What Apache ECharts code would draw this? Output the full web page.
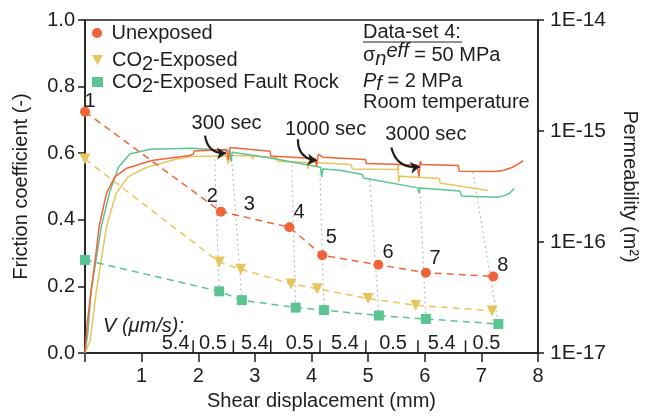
<!DOCTYPE html>
<html>
<head>
<meta charset="utf-8">
<script src="https://cdn.jsdelivr.net/npm/echarts@6/dist/echarts.min.js"></script>
<style>
html, body { margin: 0; padding: 0; background: #fff; }
#main { width: 648px; height: 416px; }
</style>
</head>
<body>
<div id="main"></div>
<script>
// friction curves, [shear displacement (mm), friction coefficient]
var fricUnexposed = [
  [0, 0], [0.04, 0.09], [0.11, 0.19], [0.18, 0.28], [0.25, 0.38], [0.38, 0.48], [0.53, 0.53],
  [0.74, 0.555], [1.18, 0.578], [1.85, 0.593], [1.91, 0.597], [1.93, 0.607], [2.5, 0.611],
  [2.52, 0.61], [2.53, 0.58], [2.56, 0.617], [3.27, 0.606], [3.28, 0.592], [3.95, 0.585],
  [4.07, 0.584], [4.09, 0.56], [4.12, 0.597], [4.2, 0.588], [4.95, 0.581], [4.97, 0.569],
  [5.86, 0.565], [5.88, 0.566], [5.9, 0.53], [5.92, 0.576], [5.95, 0.566], [6.59, 0.563],
  [6.61, 0.546], [7.26, 0.545], [7.4, 0.549], [7.55, 0.558], [7.65, 0.567], [7.74, 0.578]
];
var fricCO2 = [
  [0, 0], [0.09, 0.037], [0.2, 0.185], [0.38, 0.38], [0.55, 0.48], [0.76, 0.529], [1.09, 0.558],
  [1.62, 0.583], [1.9, 0.59], [1.92, 0.584], [2.5, 0.592], [2.52, 0.592], [2.53, 0.568],
  [2.55, 0.594], [2.95, 0.592], [2.96, 0.582], [2.98, 0.592], [3.39, 0.586], [3.4, 0.576],
  [3.93, 0.572], [3.94, 0.553], [3.96, 0.573], [4.7, 0.566], [4.72, 0.553], [5.52, 0.551],
  [5.53, 0.566], [5.54, 0.514], [5.56, 0.531], [6.26, 0.524], [6.27, 0.511], [7.12, 0.488]
];
var fricRock = [
  [0, 0], [0.05, 0.06], [0.106, 0.185], [0.29, 0.381], [0.43, 0.48], [0.59, 0.558], [0.79, 0.598],
  [1.15, 0.612], [1.9, 0.615], [2.56, 0.607], [2.58, 0.575], [2.6, 0.603], [3.2, 0.588],
  [3.23, 0.582], [4.16, 0.558], [4.18, 0.529], [4.2, 0.553], [4.5, 0.549], [4.9, 0.536],
  [4.92, 0.526], [5.88, 0.496], [5.9, 0.48], [5.92, 0.496], [6.62, 0.487], [6.65, 0.472],
  [7.26, 0.468], [7.4, 0.472], [7.5, 0.48], [7.58, 0.494]
];

// permeability measurements (m^2)
var permUnexposedX = [0, 2.40, 3.61, 4.19, 5.18, 6.02, 7.21];
var permUnexposed = [1.49e-15, 1.88e-16, 1.36e-16, 7.6e-17, 6.25e-17, 5.3e-17, 4.9e-17];
var permCO2X = [0, 2.37, 2.75, 3.64, 4.10, 5.0, 5.84, 7.19];
var permCO2 = [5.6e-16, 6.6e-17, 5.7e-17, 4.2e-17, 3.8e-17, 3.1e-17, 2.7e-17, 2.4e-17];
var permRockX = [0, 2.37, 2.77, 3.72, 4.22, 5.19, 6.02, 7.30];
var permRock = [6.9e-17, 3.6e-17, 3.0e-17, 2.57e-17, 2.44e-17, 2.18e-17, 2.03e-17, 1.83e-17];

// dotted guides: from the friction curve down to the measurement points
var guideTopX = [2.29, 2.59, 3.65, 4.15, 5.03, 5.91, 6.85];
var guideTopF = [0.582, 0.583, 0.564, 0.539, 0.52, 0.5, 0.544];

// numbers next to the measurements
var numLabels = ['1', '2', '3', '4', '5', '6', '7', '8'];
var numLabelX = [0.09, 2.25, 2.9, 3.78, 4.35, 5.35, 6.18, 7.38];
var numLabelF = [0.756, 0.47, 0.445, 0.421, 0.347, 0.303, 0.283, 0.263];

// hold annotations
var holdTexts = ['300 sec', '1000 sec', '3000 sec'];
var holdTextX = [2.5, 4.25, 6.02];
var holdTextF = [0.688, 0.672, 0.655];
var holdArrowFrom = [[2.12, 0.653], [3.76, 0.642], [5.41, 0.617]];
var holdArrowTo = [[2.49, 0.6], [4.09, 0.578], [5.91, 0.56]];

// sliding velocity steps
var velLabels = ['5.4', '0.5', '5.4', '0.5', '5.4', '0.5', '5.4', '0.5'];
var velLabelX = [1.6, 2.26, 3.0, 3.79, 4.59, 5.44, 6.30, 7.09];
var velStepX = [1.91, 2.62, 3.28, 4.15, 4.96, 5.88, 6.72];

var permTicks = [1e-17, 1e-16, 1e-15, 1e-14];
var legendNames = ['Unexposed', 'CO2-Exposed', 'CO2-Exposed Fault Rock'];
var legendIcons = ['circle', 'path://M0,0L10,0L5,9Z', 'rect'];

var ORANGE = '#F0643A', YELLOW = '#E8C55E', GREEN = '#5CC492';
var FONT = 'Liberation Sans, Arial, sans-serif';
var INK = '#1e1e1e';

function zip(xs, ys) {
  return xs.map(function (x, i) { return [x, ys[i]]; });
}
// friction axis and permeability axis share the plot height (0..1 <-> 1e-17..1e-14)
function permToFric(k) {
  return (Math.log10(k) + 17) / 3;
}
function textSeries(xs, ys, texts) {
  return {
    type: 'scatter', silent: true, symbolSize: 0, z: 6,
    itemStyle: { opacity: 1 },
    data: xs.map(function (x, i) { return [x, ys[i], texts[i]]; }),
    label: { show: true, position: 'inside', formatter: function (p) { return p.data[2]; },
      color: INK, fontSize: 20, fontFamily: FONT }
  };
}

var myChart = echarts.init(document.getElementById('main'));

var series = [];

// gray dotted guides
guideTopX.forEach(function (x, i) {
  series.push({
    type: 'line', silent: true, symbol: 'none', z: 1,
    data: [[x, guideTopF[i]], [permRockX[i + 1], permToFric(permRock[i + 1])]],
    lineStyle: { color: '#bdbdbd', width: 1.2, type: [2, 3] }
  });
});

series.push(
  { name: 'fU', type: 'line', showSymbol: false, data: fricUnexposed, z: 4,
    lineStyle: { color: ORANGE, width: 1.5 } },
  { name: 'fC', type: 'line', showSymbol: false, data: fricCO2, z: 3,
    lineStyle: { color: YELLOW, width: 1.5 } },
  { name: 'fR', type: 'line', showSymbol: false, data: fricRock, z: 3,
    lineStyle: { color: GREEN, width: 1.5 } },
  { name: legendNames[0], type: 'line', yAxisIndex: 1, data: zip(permUnexposedX, permUnexposed),
    symbol: 'circle', symbolSize: 10, z: 5,
    itemStyle: { color: ORANGE }, lineStyle: { color: ORANGE, width: 1.5, type: [7, 5] } },
  { name: legendNames[1], type: 'line', yAxisIndex: 1, data: zip(permCO2X, permCO2),
    symbol: 'triangle', symbolRotate: 180, symbolSize: 11, z: 5,
    itemStyle: { color: YELLOW }, lineStyle: { color: YELLOW, width: 1.5, type: [7, 5] } },
  { name: legendNames[2], type: 'line', yAxisIndex: 1, data: zip(permRockX, permRock),
    symbol: 'rect', symbolSize: 10, z: 5,
    itemStyle: { color: GREEN }, lineStyle: { color: GREEN, width: 1.5, type: [7, 5] } },
  textSeries(numLabelX, numLabelF, numLabels),
  textSeries(holdTextX, holdTextF, holdTexts),
  { type: 'lines', coordinateSystem: 'cartesian2d', silent: true, z: 6,
    data: holdArrowFrom.map(function (a, i) { return { coords: [a, holdArrowTo[i]] }; }),
    symbol: ['none', 'arrow'], symbolSize: 9,
    lineStyle: { color: INK, width: 2.2, opacity: 1, curveness: -0.45 } },
  textSeries(velLabelX, velLabelX.map(function () { return 0.03; }), velLabels),
  { type: 'scatter', silent: true, symbol: 'rect', symbolSize: [1.5, 13], z: 6,
    data: velStepX.map(function (x) { return [x, 0.019]; }),
    itemStyle: { color: INK, opacity: 1 } }
);

// one legend block per row so the rows keep an even spacing
var legendTops = [23, 46, 68];
var legends = legendNames.map(function (name, i) {
  return {
    left: 92, top: legendTops[i], itemWidth: 11, itemHeight: 10, padding: 0,
    data: [{ name: name, icon: legendIcons[i] }],
    formatter: function (n) {
      return n.replace('CO2', '{a|CO}{s|2}{a|').replace(/^([^{])/, '{a|$1') + '}';
    },
    textStyle: {
      color: INK, fontSize: 20, padding: [0, 0, 0, 4],
      rich: {
        a: { fontSize: 20, color: INK, fontFamily: FONT, lineHeight: 21 },
        s: { fontSize: 20, color: INK, fontFamily: FONT, lineHeight: 12, padding: [8, 0, 0, 0] }
      }
    }
  };
});

var option = {
  animation: false,
  textStyle: { fontFamily: FONT },
  grid: { left: 85, right: 110, top: 20, bottom: 57, show: true, borderColor: INK, borderWidth: 1.5 },
  legend: legends,
  xAxis: {
    type: 'value', min: 0, max: 8, interval: 1,
    name: 'Shear displacement (mm)', nameLocation: 'middle', nameGap: 35,
    nameTextStyle: { fontSize: 20, color: INK, padding: [0, 0, 0, 20] },
    axisLine: { lineStyle: { color: INK, width: 1.5 } },
    axisTick: { length: 9, lineStyle: { color: INK, width: 1.5 } },
    axisLabel: { fontSize: 20, color: INK, margin: 13,
      formatter: function (v) { return v === 0 ? '' : String(v); } },
    splitLine: { show: false }
  },
  yAxis: [
    {
      type: 'value', min: 0, max: 1, interval: 0.2,
      name: 'Friction coefficient (-)', nameLocation: 'middle', nameGap: 54, nameRotate: 90,
      nameTextStyle: { fontSize: 20, color: INK },
      axisLine: { show: true, lineStyle: { color: INK, width: 1.5 } },
      axisTick: { show: true, length: 7, lineStyle: { color: INK, width: 1.5 } },
      axisLabel: { fontSize: 20, color: INK, margin: 10,
        formatter: function (v) { return v.toFixed(1); } },
      splitLine: { show: false }
    },
    {
      type: 'log', logBase: 10, min: permTicks[0], max: permTicks[permTicks.length - 1],
      name: 'Permeability (m²)', nameLocation: 'middle', nameGap: 82, nameRotate: -90,
      nameTextStyle: { fontSize: 20, color: INK },
      axisLine: { show: true, lineStyle: { color: INK, width: 1.5 } },
      axisTick: { show: true, length: 6, lineStyle: { color: INK, width: 1.5 } },
      axisLabel: { fontSize: 21, color: INK, margin: 12,
        formatter: function (v) { return '1E' + Math.round(Math.log10(v)); } },
      minorTick: { show: false },
      splitLine: { show: false }
    }
  ],
  graphic: [
    { type: 'text', left: 363, top: 22,
      style: { text: 'Data-set 4:', font: '20px ' + FONT, fill: INK } },
    { type: 'line', shape: { x1: 363, y1: 42, x2: 462, y2: 42 },
      style: { stroke: INK, lineWidth: 1 } },
    { type: 'text', left: 363, top: 41,
      style: {
        text: '{a|σ}{sub|n}{sup|eff}{a| = 50 MPa}',
        rich: {
          a: { font: '20px ' + FONT, fill: INK },
          sub: { font: 'italic 20px ' + FONT, fill: INK, padding: [8, 0, 0, 0] },
          sup: { font: 'italic 20px ' + FONT, fill: INK, padding: [0, 0, 9, 0] }
        }
      } },
    { type: 'text', left: 363, top: 68,
      style: {
        text: '{p|P}{sub|f}{a| = 2 MPa}',
        rich: {
          a: { font: '20px ' + FONT, fill: INK, lineHeight: 24 },
          p: { font: 'italic 20px ' + FONT, fill: INK, lineHeight: 24 },
          sub: { font: 'italic 20px ' + FONT, fill: INK, lineHeight: 24, padding: [6, 0, 0, 0] }
        }
      } },
    { type: 'text', left: 363, top: 92,
      style: { text: 'Room temperature', font: '20px ' + FONT, fill: INK } },
    { type: 'text', left: 103, top: 316,
      style: { text: 'V (μm/s):', font: 'italic 20px ' + FONT, fill: INK } }
  ],
  series: series
};

myChart.setOption(option);
</script>
</body>
</html>
